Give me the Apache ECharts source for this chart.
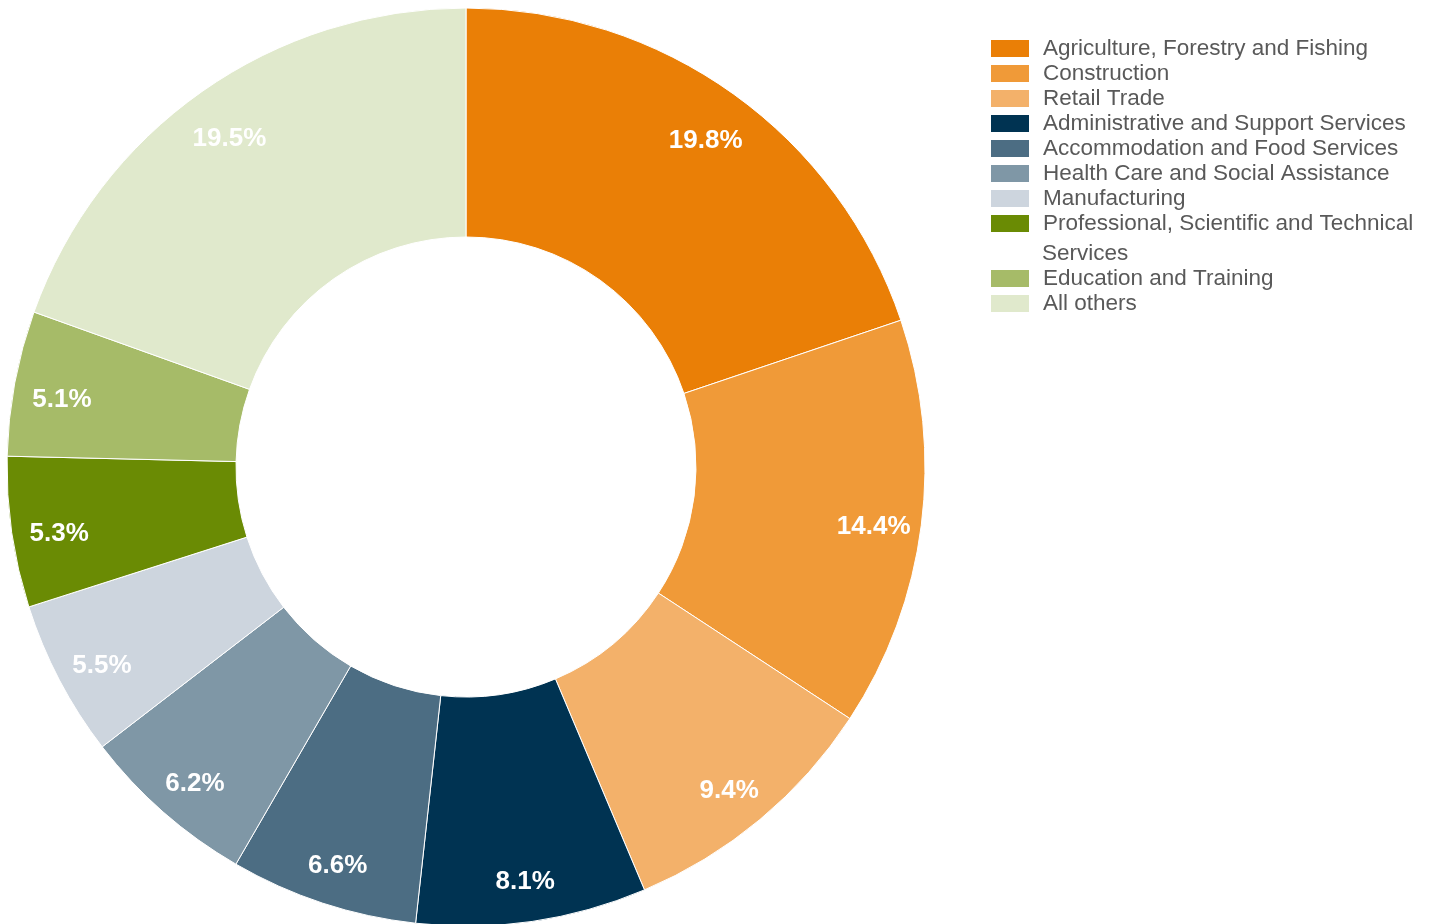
<!DOCTYPE html>
<html>
<head>
<meta charset="utf-8">
<script src="https://cdn.jsdelivr.net/npm/echarts@6/dist/echarts.min.js"></script>
<style>
html,body{margin:0;padding:0;background:#fff;}
#chart{width:1433px;height:924px;}
</style>
</head>
<body>
<div id="chart"></div>
<script>
const categories = [
  'Agriculture, Forestry and Fishing',
  'Construction',
  'Retail Trade',
  'Administrative and Support Services',
  'Accommodation and Food Services',
  'Health Care and Social Assistance',
  'Manufacturing',
  'Professional, Scientific and Technical Services',
  'Education and Training',
  'All others'
];
const values = [19.8, 14.4, 9.4, 8.1, 6.6, 6.2, 5.5, 5.3, 5.1, 19.5];
const colors = ['#EA7F06', '#F09A38', '#F3B16A', '#003352', '#4C6D83', '#7F97A6', '#CDD5DE', '#6A8B04', '#A6BB68', '#E0E9CC'];

const data = categories.map((c, i) => ({ name: c, value: values[i], itemStyle: { color: colors[i] } }));
const labelData = categories.map((c, i) => ({ name: c, value: values[i] }));

const chart = echarts.init(document.getElementById('chart'), null, { renderer: 'canvas' });
const legendText = {
  fontFamily: 'Liberation Sans, Arial, sans-serif',
  fontSize: 22.5,
  color: '#595959',
  padding: [0, 0, 0, 8]
};
chart.setOption({
  animation: false,
  legend: [
    {
      orient: 'vertical', left: 989, top: 37, padding: 0,
      itemWidth: 40, itemHeight: 19, itemGap: 2, icon: 'rect',
      data: categories.slice(0, 8),
      formatter: n => n === categories[7] ? 'Professional, Scientific and Technical' : n,
      textStyle: legendText,
      selectedMode: false
    },
    {
      orient: 'vertical', left: 989, top: 267, padding: 0,
      itemWidth: 40, itemHeight: 19, itemGap: 2, icon: 'rect',
      data: categories.slice(8),
      textStyle: legendText,
      selectedMode: false
    }
  ],
  graphic: [{
    type: 'text', left: 1042, top: 242,
    style: { text: 'Services', font: '22.5px "Liberation Sans", Arial, sans-serif', fill: '#595959' }
  }],
  series: [
    {
      type: 'pie',
      center: [466, 467],
      radius: [230, 459],
      startAngle: 90,
      clockwise: true,
      silent: true,
      label: { show: false },
      labelLine: { show: false },
      itemStyle: { borderColor: '#ffffff', borderWidth: 1 },
      data: data
    },
    {
      type: 'pie',
      center: [466, 475],
      radius: [357, 459],
      startAngle: 90,
      clockwise: true,
      silent: true,
      legendHoverLink: false,
      itemStyle: { color: 'rgba(0,0,0,0)' },
      label: {
        show: true,
        position: 'inside',
        formatter: p => p.value.toFixed(1) + '%',
        color: '#ffffff',
        fontFamily: 'Liberation Sans, Arial, sans-serif',
        fontWeight: 'bold',
        fontSize: 26
      },
      labelLine: { show: false },
      data: labelData
    }
  ]
});
</script>
</body>
</html>
